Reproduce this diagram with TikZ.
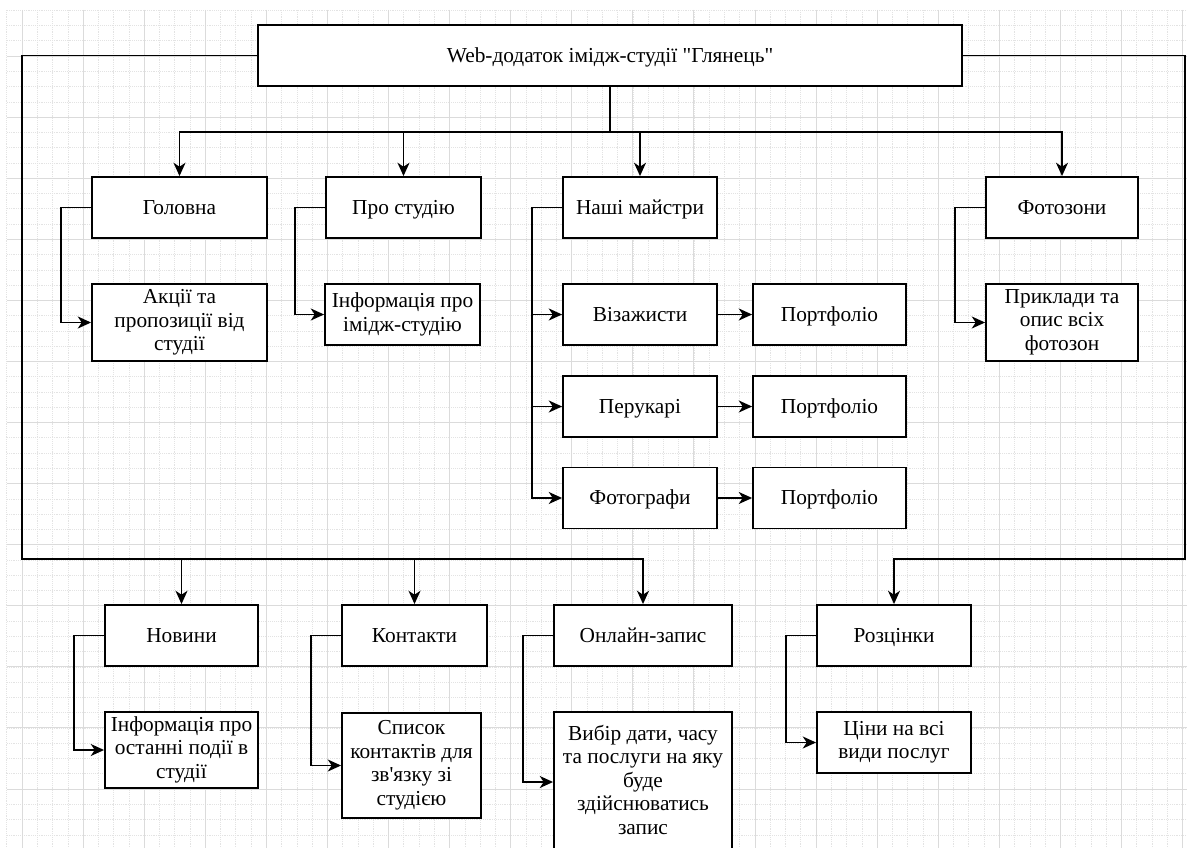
\documentclass[tikz,border=0pt]{standalone}
\usepackage{fontspec}
\newfontfamily\boxfont{Liberation Serif}
\usetikzlibrary{arrows.meta}
\newcommand\linestrut{\rule[-3.8pt]{0pt}{17.6pt}}

\begin{document}
\begin{tikzpicture}[x=0.75pt,y=-0.75pt,
    box/.style={draw,line width=1.4pt,fill=white,align=center,inner sep=0pt,
      font=\boxfont\fontsize{16}{17.6}\selectfont,minimum height=#1*0.75pt,
      execute at begin node=\linestrut,execute at end node=\linestrut},
    box/.default=61,
    wd/.style={minimum width=#1*0.75pt},
    link/.style={line width=1.4pt,-{Stealth[length=10pt,width=9pt,inset=3pt]}},
    minorline/.style={gray!22,line width=0.4pt,densely dotted},
    majorline/.style={gray!28,line width=0.7pt}]
        % canvas and grid
        \useasboundingbox (0,0) rectangle (1187,848);
        \clip (0,0) rectangle (1187,848);
        \foreach \i in {0,...,77} \draw[minorline] ({6.7+15.27*\i},10) -- ({6.7+15.27*\i},848);
        \foreach \j in {0,...,54} \draw[minorline] (7,{10.2+15.27*\j}) -- (1187,{10.2+15.27*\j});
        \foreach \i in {0,...,19} \draw[majorline] ({22+61.08*\i},10) -- ({22+61.08*\i},848);
        \foreach \j in {0,...,13} \draw[majorline] (7,{56+61.08*\j}) -- (1187,{56+61.08*\j});

        % Root
        \draw (610,55.5) node[box,wd=704](root) {Web-додаток імідж-студії "Глянець"};

        % Upper pages
        \draw (179.5,207.5) node[box,wd=175](glav) {Головна};
        \draw (179.5,322.5) node[box=77,wd=175](akcii) {Акції та\\пропозиції від\\студії};
        \draw (403.5,207.5) node[box,wd=155](pro) {Про студію};
        \draw (402.5,314.5) node[box,wd=155](info1) {Інформація про\\імідж-студію};
        \draw (640,207.5) node[box,wd=154](maistry) {Наші майстри};
        \draw (640,314.5) node[box,wd=154](vizazh) {Візажисти};
        \draw (640,406.5) node[box,wd=154](peruk) {Перукарі};
        \draw (640,498) node[box,wd=154](foto) {Фотографи};
        \draw (829.5,314.5) node[box,wd=153](port1) {Портфоліо};
        \draw (829.5,406.5) node[box,wd=153](port2) {Портфоліо};
        \draw (829.5,498) node[box,wd=153](port3) {Портфоліо};
        \draw (1062,207.5) node[box,wd=152](fotozony) {Фотозони};
        \draw (1062,322.5) node[box=77,wd=152](pryklady) {Приклади та\\опис всіх\\фотозон};

        % Lower pages
        \draw (181.5,635.5) node[box,wd=153](novyny) {Новини};
        \draw (181.5,750) node[box=76,wd=153](info2) {Інформація про\\останні події в\\студії};
        \draw (414.5,635.5) node[box,wd=145](kontakty) {Контакти};
        \draw (411.5,765.5) node[box=105,wd=139](spysok) {Список\\контактів для\\зв'язку зі\\студією};
        \draw (643,635.5) node[box,wd=178](onlain) {Онлайн-запис};
        \draw (643,782) node[box=140,wd=178](vybir) {Вибір дати, часу\\та послуги на яку\\буде\\здійснюватись\\запис};
        \draw (894,635.5) node[box,wd=154](roztsinky) {Розцінки};
        \draw (894,742.5) node[box,wd=154](tsiny) {Ціни на всі\\види послуг};

        % Connections
        \coordinate (bus) at (610,132);
        \coordinate (fl) at (22,559);
        \coordinate (fr) at (1185,559);
        \foreach \n in {glav,pro,maistry,fotozony}
            \draw[link] (root.south) -- (bus) -| (\n.north);
        \foreach \n/\m in {glav/akcii,pro/info1,fotozony/pryklady,novyny/info2,kontakty/spysok,onlain/vybir,roztsinky/tsiny}
            \draw[link] (\n.west) -- ++(-30,0) |- (\m.west);
        \foreach \m in {vizazh,peruk,foto}
            \draw[link] (maistry.west) -- ++(-30,0) |- (\m.west);
        \foreach \n/\m in {vizazh/port1,peruk/port2,foto/port3}
            \draw[link] (\n) -- (\m);
        \foreach \n in {novyny,kontakty,onlain}
            \draw[link] (root.west) -| (fl) -| (\n.north);
        \draw[link] (root.east) -| (fr) -| (roztsinky.north);
    \end{tikzpicture}
\end{document}
